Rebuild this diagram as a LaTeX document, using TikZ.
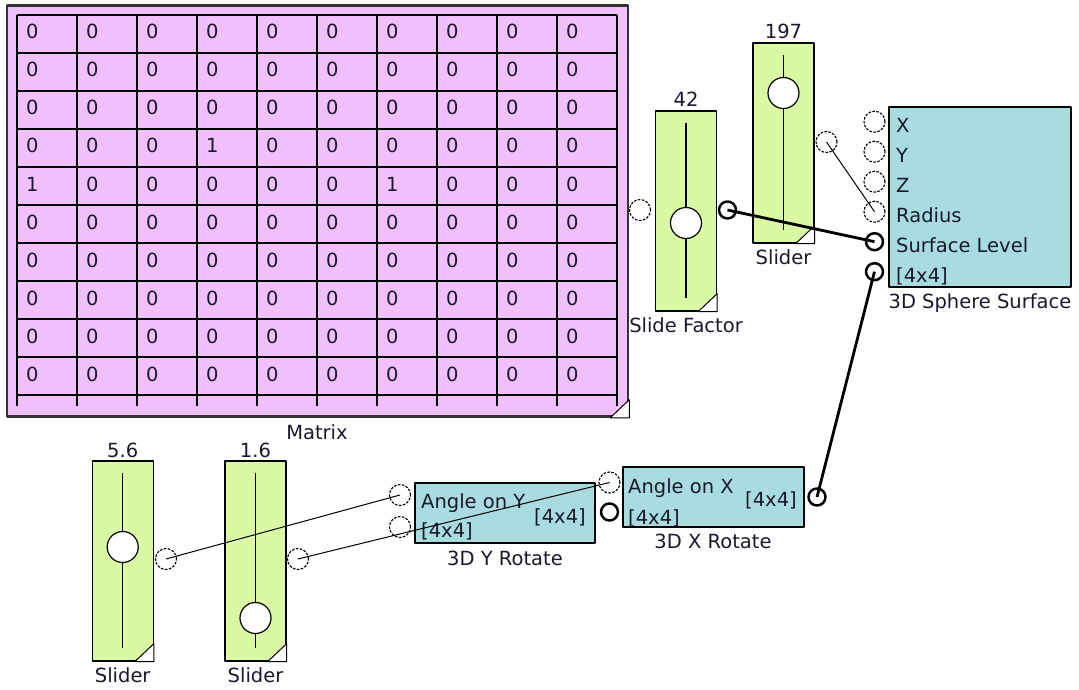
\documentclass[tikz,border=0pt]{standalone}
\usepackage{fontspec}
\setmainfont{DejaVu Sans}
\definecolor{matpink}{RGB}{242,192,255}
\definecolor{slidegreen}{RGB}{217,249,164}
\definecolor{blockteal}{RGB}{168,220,224}
\definecolor{inktext}{RGB}{25,25,45}
\begin{document}
\begin{tikzpicture}[x=1pt, y=-1pt, line join=round,
        every node/.style={inner sep=0pt, text=inktext, font=\fontsize{19.5}{22}\selectfont},
        matbox/.style={draw=black!80, line width=2.5pt, fill=matpink, minimum width=621pt, minimum height=411pt},
        sliderbox/.style={draw, line width=1.3pt, fill=slidegreen, minimum width=61pt, minimum height=200pt},
        blockbox/.style={draw, line width=1.3pt, fill=blockteal},
        knob/.style={circle, draw, line width=1.2pt, fill=white, minimum size=31pt},
        freeport/.style={circle, draw, line width=1.1pt, dash pattern=on 2.6pt off 1.4pt, minimum size=21pt},
        wiredport/.style={circle, draw, line width=2.5pt, minimum size=17pt},
        thinwire/.style={line width=1pt},
        thickwire/.style={line width=2.8pt}]
        \useasboundingbox (0,0) rectangle (1079,690);
        \node[matbox] (mat) at (317.5,211) {};
        \foreach \i in {0,...,10} {
            \draw[line width=1.3pt] (17,15+38*\i) -- (617,15+38*\i);
            \draw[line width=1.3pt] (17+60*\i,15) -- (17+60*\i,406);
        }
        \foreach \r/\vals in {0/{0,0,0,0,0,0,0,0,0,0}, 1/{0,0,0,0,0,0,0,0,0,0},
                2/{0,0,0,0,0,0,0,0,0,0}, 3/{0,0,0,1,0,0,0,0,0,0}, 4/{1,0,0,0,0,0,1,0,0,0},
                5/{0,0,0,0,0,0,0,0,0,0}, 6/{0,0,0,0,0,0,0,0,0,0}, 7/{0,0,0,0,0,0,0,0,0,0},
                8/{0,0,0,0,0,0,0,0,0,0}, 9/{0,0,0,0,0,0,0,0,0,0}} {
            \foreach \v [count=\c from 0] in \vals {
                \node[anchor=base west] (m\r-\c) at (26+60*\c, 39+38*\r) {\v};
            }
        }
        \draw[fill=white, line width=1pt] (mat.south east) -- ++(0,-18) -- ++(-19,18) -- cycle;
        \node[anchor=base] (mat-lab) at (317,439) {Matrix};
        \foreach \n/\x/\y/\ky/\v/\lab in {sf/686/211/223/42/Slide Factor, sa/783.5/143/93/197/Slider,
                sb/122.7/561/547/5.6/Slider, sc/255.5/561/618/1.6/Slider} {
            \node[sliderbox] (\n) at (\x,\y) {};
            \draw[line width=1.3pt] (\x,\y-88) -- (\x,\y+87);
            \node[knob] (\n-knob) at (\x,\ky) {};
            \draw[fill=white, line width=1pt] (\n.south east) -- ++(0,-18) -- ++(-19,18) -- cycle;
            \node[anchor=base] (\n-val) at (\x,\y-104) {\v};
            \node[anchor=base] (\n-lab) at (\x,\y+121) {\lab};
        }
        \node[freeport] (sf-in) at (640,210) {};
        \node[wiredport] (sf-out) at (727.5,210) {};
        \node[freeport] (sa-out) at (826.5,142) {};
        \node[freeport] (sb-out) at (166,559) {};
        \node[freeport] (sc-out) at (298,559) {};
        \node[blockbox, minimum width=182pt, minimum height=180pt] (sph) at (980,197) {};
        \foreach \i/\txt in {1/X,2/Y,3/Z,4/Radius,5/Surface Level,6/{[4x4]}} {
            \node[anchor=base west] (sph-t\i) at (896,102.5+30*\i) {\txt};
        }
        \foreach \i in {1,...,4} {
            \node[freeport] (sph\i) at (874.5,91.7+30*\i) {};
        }
        \node[wiredport] (sph5) at (874.5,241.7) {};
        \node[wiredport] (sph6) at (874.5,271.7) {};
        \node[anchor=base] (sph-lab) at (980,308.7) {3D Sphere Surface};
        \node[blockbox, minimum width=180pt, minimum height=60pt] (yrot) at (505,513) {};
        \node[anchor=base west] (yrot-a) at (421,508.7) {Angle on Y};
        \node[anchor=base west] (yrot-m) at (421,537) {[4x4]};
        \node[anchor=base east] (yrot-o) at (586,523) {[4x4]};
        \node[anchor=base] (yrot-lab) at (505,565) {3D Y Rotate};
        \node[freeport] (yrot-in1) at (400,495) {};
        \node[freeport] (yrot-in2) at (400,527) {};
        \node[blockbox, minimum width=181pt, minimum height=60pt] (xrot) at (713.5,497) {};
        \node[anchor=base west] (xrot-a) at (628,493.7) {Angle on X};
        \node[anchor=base west] (xrot-m) at (628,524) {[4x4]};
        \node[anchor=base east] (xrot-o) at (797,506) {[4x4]};
        \node[anchor=base] (xrot-lab) at (713,548.7) {3D X Rotate};
        \node[freeport] (xrot-in1) at (609.5,482.5) {};
        \node[wiredport] (xrot-in2) at (609.5,512) {};
        \node[wiredport] (xrot-out) at (817,497) {};
        \draw[thickwire] (sf-out.center) -- (sph5.center);
        \draw[thinwire] (sa-out.center) -- (sph4.center);
        \draw[thickwire] (sph6.center) -- (xrot-out.center);
        \draw[thinwire] (sb-out.center) -- (yrot-in1.center);
        \draw[thinwire] (sc-out.center) -- (xrot-in1.center);
\end{tikzpicture}
\end{document}
